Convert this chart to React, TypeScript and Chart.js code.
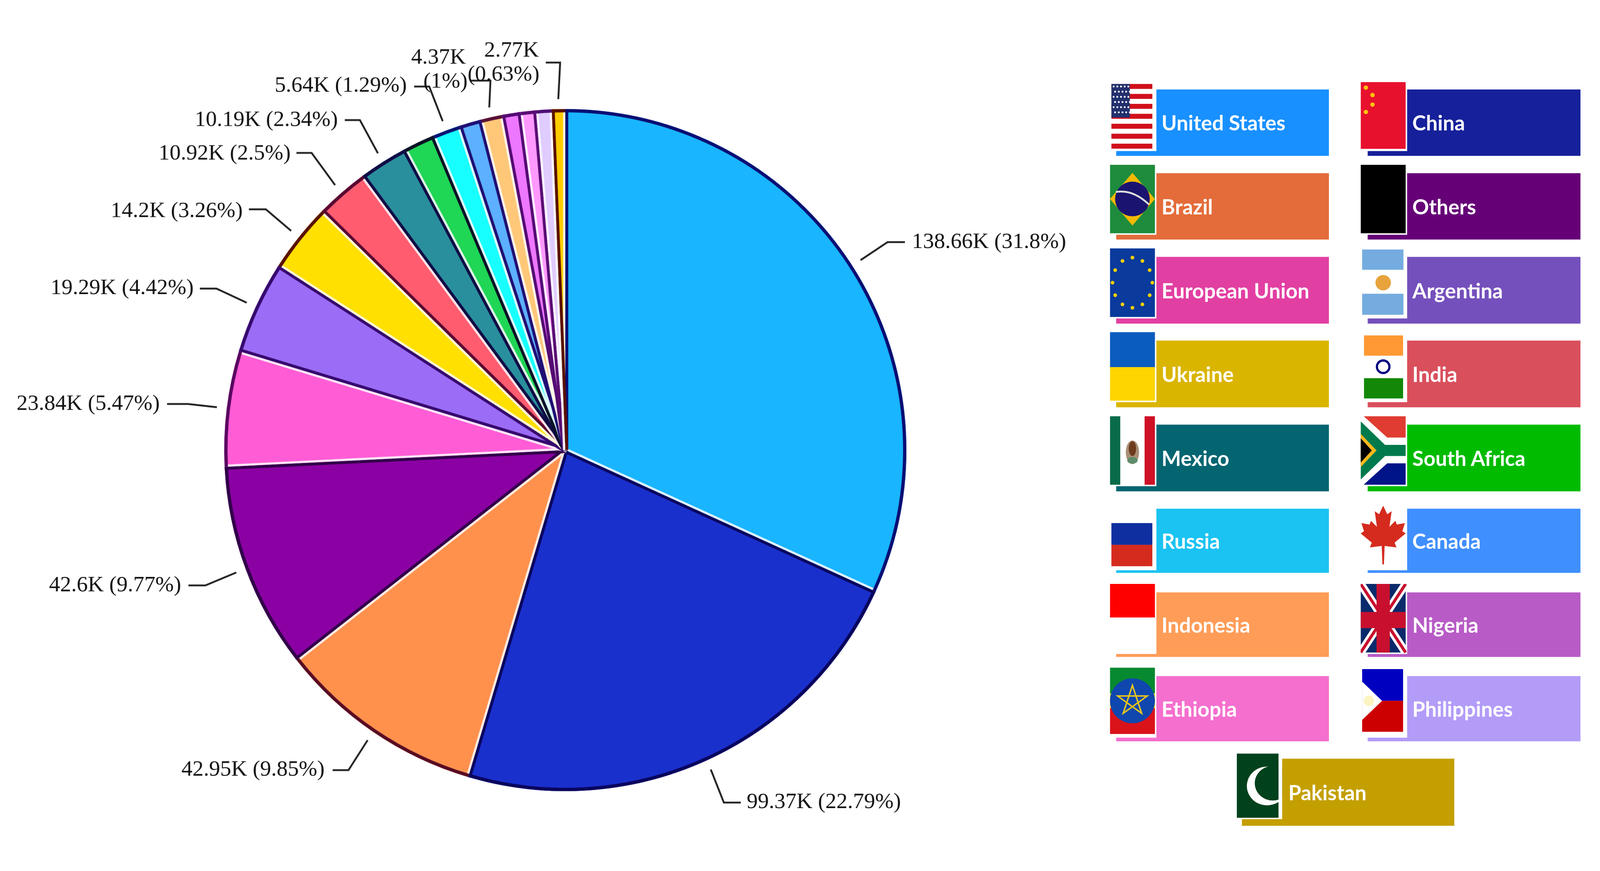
import { useEffect, useRef } from 'react';
import Chart from 'chart.js/auto';

const PAGE_W = 4339;
const PAGE_H = 2230;
const CENTER_X = 1533;
const CENTER_Y = 1155;
const PIE_R = 925;

const countries = [
  'United States', 'China', 'Brazil', 'Others', 'European Union', 'Argentina', 'Ukraine', 'India', 'Mexico',
  'South Africa', 'Russia', 'Canada', 'Indonesia', 'Nigeria', 'Ethiopia', 'Philippines', 'Pakistan',
];
const sliceValues = [138.66, 99.37, 42.95, 42.6, 23.84, 19.29, 14.2, 10.92, 10.19, 6.4, 5.64, 4.6, 4.37, 3.8, 3.2, 3.2, 2.77];
const valueLabels = ['138.66K', '99.37K', '42.95K', '42.6K', '23.84K', '19.29K', '14.2K', '10.92K', '10.19K', '', '5.64K', '', '4.37K', '', '', '', '2.77K'];
const percentLabels = ['31.8%', '22.79%', '9.85%', '9.77%', '5.47%', '4.42%', '3.26%', '2.5%', '2.34%', '', '1.29%', '', '1%', '', '', '', '0.63%'];

const sliceColors = [
  '#19B5FF', '#1A30CC', '#FF914D', '#8B00A3', '#FF5CD6', '#9B6CF5', '#FFE000', '#FF5C70', '#2A8F9C',
  '#1FD655', '#17FFFF', '#5CB0FF', '#FFC878', '#EE77FF', '#FF99FF', '#E0CCFF', '#FFCC00',
];
const legendColors = [
  '#1890FF', '#16209A', '#E46C3A', '#660077', '#E23FA2', '#7450BC', '#DAB500', '#D94F5C', '#036570',
  '#00BB00', '#1AC3F2', '#3F8FFF', '#FF9C57', '#B85BC6', '#F56FCE', '#B39CF8', '#C49F00',
];

// where the leader of each labelled slice bends and where its text sits
const labelLayout = [
  { slice: 0, elbow: [2407, 591], endX: 2454, lines: [[2473, 591]] },
  { slice: 1, elbow: [1963, 2111], endX: 2009, lines: [[2025, 2110]] },
  { slice: 2, elbow: [945, 2023], endX: 902, lines: [[492, 2022]] },
  { slice: 3, elbow: [557, 1522], endX: 511, lines: [[133, 1522]] },
  { slice: 4, elbow: [510, 1030], endX: 453, lines: [[45, 1030]] },
  { slice: 5, elbow: [587, 717], endX: 542, lines: [[137, 716]] },
  { slice: 6, elbow: [721, 502], endX: 675, lines: [[300, 507]] },
  { slice: 7, elbow: [845, 349], endX: 804, lines: [[430, 351]] },
  { slice: 8, elbow: [976, 260], endX: 935, lines: [[528, 260]] },
  { slice: 10, elbow: [1164, 169], endX: 1123, lines: [[745, 167]] },
  { slice: 12, elbow: [1330, 153], endX: 1276, lines: [[1115, 91], [1148, 156]] },
  { slice: 16, elbow: [1519, 104], endX: 1480, lines: [[1313, 72], [1268, 137]] },
];

const rowTops = [177, 404, 631, 858, 1086, 1314, 1541, 1768];
const rowHeights = [180, 180, 181, 181, 181, 174, 175, 177];

const toRgb = (hex: string) => [1, 3, 5].map((i) => parseInt(hex.slice(i, i + 2), 16));
const brightness = (hex: string) => {
  const [r, g, b] = toRgb(hex);
  return 0.3 * r + 0.59 * g + 0.11 * b;
};
const shade = (hex: string) => {
  const [r, g, b] = toRgb(hex);
  return `rgb(${r * 0.35},${g * 0.08},${b * 0.45})`;
};
const glow = (hex: string) => {
  const [r, g, b] = toRgb(hex);
  return `rgb(${r * 0.15 + 216},${g * 0.15 + 216},${b * 0.15 + 216})`;
};

// the reference has a dark rim and a light/dark seam between neighbouring slices
const pieEdges = {
  id: 'pieEdges',
  afterDatasetsDraw(chart: any) {
    const { ctx } = chart;
    const arcs = chart.getDatasetMeta(0).data;
    ctx.save();
    ctx.lineCap = 'butt';
    arcs.forEach((arc: any, i: number) => {
      const prev = (i + arcs.length - 1) % arcs.length;
      const a = arc.startAngle;
      const nx = -Math.sin(a);
      const ny = Math.cos(a);
      const mineDarker = brightness(sliceColors[i]) < brightness(sliceColors[prev]);
      const seam = (side: number, color: string, w: number) => {
        const off = (side * w) / 2;
        ctx.beginPath();
        ctx.moveTo(arc.x + nx * off, arc.y + ny * off);
        ctx.lineTo(arc.x + Math.cos(a) * PIE_R + nx * off, arc.y + Math.sin(a) * PIE_R + ny * off);
        ctx.strokeStyle = color;
        ctx.lineWidth = w;
        ctx.stroke();
      };
      seam(mineDarker ? 1 : -1, shade(mineDarker ? sliceColors[i] : sliceColors[prev]), 8);
      seam(mineDarker ? -1 : 1, glow(mineDarker ? sliceColors[prev] : sliceColors[i]), 6);
    });
    arcs.forEach((arc: any, i: number) => {
      ctx.beginPath();
      ctx.arc(arc.x, arc.y, arc.outerRadius - 4.5, arc.startAngle, arc.endAngle);
      ctx.strokeStyle = shade(sliceColors[i]);
      ctx.lineWidth = 9;
      ctx.stroke();
    });
    ctx.restore();
  },
};

const pieLabels = {
  id: 'pieLabels',
  afterDraw(chart: any) {
    const { ctx } = chart;
    const arcs = chart.getDatasetMeta(0).data;
    ctx.save();
    ctx.font = '60px "Liberation Serif"';
    ctx.textBaseline = 'middle';
    ctx.textAlign = 'left';
    labelLayout.forEach(({ slice, elbow, endX, lines }) => {
      const arc = arcs[slice];
      const mid = (arc.startAngle + arc.endAngle) / 2;
      ctx.beginPath();
      ctx.moveTo(arc.x + Math.cos(mid) * (arc.outerRadius + 27), arc.y + Math.sin(mid) * (arc.outerRadius + 27));
      ctx.lineTo(elbow[0], elbow[1]);
      ctx.lineTo(endX, elbow[1]);
      ctx.strokeStyle = '#222';
      ctx.lineWidth = 5;
      ctx.stroke();
      ctx.fillStyle = '#111';
      const texts = lines.length > 1
        ? [valueLabels[slice], `(${percentLabels[slice]})`]
        : [`${valueLabels[slice]} (${percentLabels[slice]})`];
      lines.forEach(([x, y], n) => ctx.fillText(texts[n], x, y));
    });
    ctx.restore();
  },
};

const dots = (pts: number[][], r: number, fill: string) =>
  pts.map(([x, y], i) => <circle key={i} cx={x} cy={y} r={r} fill={fill} />);

const usStripes = Array.from({ length: 7 }, (_, i) => i);
const usStars = Array.from({ length: 30 }, (_, i) => [10 + (i % 5) * 10 + (Math.floor(i / 5) % 2) * 4, 15 + Math.floor(i / 5) * 14]);
const euStars = Array.from({ length: 12 }, (_, i) => [
  61 + 54 * Math.cos((i * Math.PI) / 6),
  93 + 68 * Math.sin((i * Math.PI) / 6),
]);

// flags are drawn in a 126x190 box, the flag itself mostly fills 122x186
const flags: Record<string, any> = {
  'United States': (
    <>
      <rect x={4} y={8} width={111} height={175} fill="#fff" />
      {usStripes.map((i) => <rect key={i} x={4} y={8 + i * 27} width={111} height={13.5} fill="#D0101C" />)}
      <rect x={4} y={8} width={50} height={91} fill="#23306E" />
      {dots(usStars, 2.6, '#fff')}
    </>
  ),
  China: (
    <>
      <rect x={0} y={3} width={122} height={181} fill="#E8112D" />
      {dots([[14, 18], [32, 38], [32, 64], [14, 84]], 6, '#FFC20E')}
    </>
  ),
  Brazil: (
    <>
      <rect width={122} height={186} fill="#1E8C3C" />
      <polygon points="61,22 122,93 61,165 0,93" fill="#F5B800" />
      <circle cx={61} cy={93} r={47} fill="#1A1470" />
      <path d="M16 74 Q62 66 106 108" fill="none" stroke="#ddd" strokeWidth={5} />
    </>
  ),
  Others: <rect width={122} height={186} fill="#000" />,
  'European Union': (
    <>
      <rect width={122} height={186} fill="#0A3A9C" />
      {dots(euStars, 5, '#F5D000')}
    </>
  ),
  Argentina: (
    <>
      <rect x={4} y={3} width={112} height={55} fill="#74ACDF" />
      <rect x={4} y={123} width={112} height={57} fill="#74ACDF" />
      <circle cx={61} cy={93} r={21} fill="#E8A33D" />
    </>
  ),
  Ukraine: (
    <>
      <rect width={122} height={95} fill="#0B5CBF" />
      <rect y={95} width={122} height={91} fill="#FFD500" />
    </>
  ),
  India: (
    <>
      <rect x={9} y={9} width={106} height={55} fill="#FF9933" />
      <rect x={9} y={125} width={106} height={55} fill="#138808" />
      <circle cx={61} cy={94} r={17} fill="none" stroke="#000080" strokeWidth={6} />
    </>
  ),
  Mexico: (
    <>
      <rect width={28} height={186} fill="#0A6B4A" />
      <rect x={94} width={28} height={186} fill="#CE1126" />
      <ellipse cx={61} cy={98} rx={18} ry={32} fill="#A89078" />
      <ellipse cx={61} cy={88} rx={10} ry={20} fill="#6E3B1E" />
      <ellipse cx={61} cy={120} rx={14} ry={9} fill="#5E8C6A" />
    </>
  ),
  'South Africa': (
    <>
      <polygon points="8,0 122,0 122,58 72,58" fill="#E03C31" />
      <polygon points="8,186 122,186 122,128 72,128" fill="#001489" />
      <polygon points="0,14 66,78 122,78 122,108 66,108 0,172" fill="#007A4D" />
      <polygon points="0,48 43,93 0,138" fill="#FFB81C" />
      <polygon points="0,60 30,93 0,126" fill="#000" />
    </>
  ),
  Russia: (
    <>
      <rect x={4} y={62} width={111} height={59} fill="#0F2FA0" />
      <rect x={4} y={121} width={111} height={58} fill="#D52B1E" />
    </>
  ),
  Canada: (
    <polygon
      points="61,15 72,38 84,30 78,72 94,56 98,66 120,62 113,84 122,90 92,115 97,128 65,124 63,174 59,174 57,124 25,128 30,115 0,90 9,84 2,62 24,66 28,56 44,72 38,30 50,38"
      fill="#D52B1E"
    />
  ),
  Indonesia: <rect width={122} height={91} fill="#FF0000" />,
  Nigeria: (
    <>
      <rect width={122} height={186} fill="#0A2A6B" />
      <line x1={0} y1={0} x2={122} y2={186} stroke="#fff" strokeWidth={22} />
      <line x1={122} y1={0} x2={0} y2={186} stroke="#fff" strokeWidth={22} />
      <line x1={0} y1={0} x2={122} y2={186} stroke="#C8102E" strokeWidth={8} />
      <line x1={122} y1={0} x2={0} y2={186} stroke="#C8102E" strokeWidth={8} />
      <rect x={43} width={36} height={186} fill="#C8102E" />
      <rect y={76} width={122} height={44} fill="#C8102E" />
    </>
  ),
  Ethiopia: (
    <>
      <rect width={122} height={70} fill="#078930" />
      <rect y={70} width={122} height={40} fill="#FCDD09" />
      <rect y={110} width={122} height={70} fill="#DA121A" />
      <circle cx={61} cy={90} r={61} fill="#0F47AF" />
      <polygon points="61,48 86,124 21,77 101,77 36,124" fill="none" stroke="#E6C51E" strokeWidth={4} />
    </>
  ),
  Philippines: (
    <>
      <rect x={4} y={4} width={111} height={86} fill="#0000C0" />
      <rect x={4} y={90} width={111} height={84} fill="#CC0000" />
      <polygon points="4,38 58,90 4,142" fill="#fff" />
      <circle cx={22} cy={90} r={14} fill="#FBF3C0" />
    </>
  ),
  Pakistan: (
    <>
      <rect width={116} height={186} fill="#01411C" />
      <circle cx={84} cy={94} r={56} fill="#fff" />
      <circle cx={100} cy={86} r={50} fill="#01411C" />
      <rect x={116} width={10} height={186} fill="#fff" />
    </>
  ),
};

const labelStyle: any = {
  position: 'absolute',
  color: '#fff',
  font: '700 56px Lato',
  whiteSpace: 'nowrap',
  transform: 'translateY(-50%)',
};

const LegendItem = ({ index }: { index: number }) => {
  const name = countries[index];
  const isLast = index === countries.length - 1;
  const col = index % 2;
  const row = Math.floor(index / 2);
  const left = isLast ? 3368 : col === 0 ? 3027 : 3709;
  const top = isLast ? 1992 : rowTops[row];
  const height = isLast ? 182 : rowHeights[row];
  const width = isLast ? 576 : 577;
  const flagLeft = isLast ? 3354 : col === 0 ? 3010 : 3690;
  const flagTop = isLast ? 1978 : top - 23;
  return (
    <>
      <div style={{ position: 'absolute', left, top, width, height, background: legendColors[index] }} />
      <svg
        viewBox="0 0 126 190"
        preserveAspectRatio="none"
        style={{ position: 'absolute', left: flagLeft, top: flagTop, width: isLast ? 123 : 126, height: isLast ? 178 : 190, background: '#fff' }}
      >
        {flags[name]}
      </svg>
      <span style={{ ...labelStyle, left: flagLeft + 140, top: top + height / 2 }}>{name}</span>
    </>
  );
};

export default function App() {
  const canvasRef = useRef<HTMLCanvasElement | null>(null);

  useEffect(() => {
    if (!canvasRef.current) return;
    const chart = new Chart(canvasRef.current, {
      type: 'pie',
      data: {
        labels: countries,
        datasets: [{ data: sliceValues, backgroundColor: sliceColors, borderWidth: 0, radius: PIE_R }],
      },
      options: {
        animation: false,
        responsive: false,
        layout: { padding: { top: CENTER_Y * 2 - PAGE_H, right: PAGE_W - CENTER_X * 2 } },
        plugins: { legend: { display: false }, tooltip: { enabled: false } },
      },
      plugins: [pieEdges, pieLabels],
    } as any);
    return () => {
      chart.destroy();
    };
  }, []);

  // the window can be narrower than the layout, so fit the whole page and keep the pie round
  const fit = Math.min(1, window.innerWidth / PAGE_W, window.innerHeight / PAGE_H);
  const offsetY = (window.innerHeight - PAGE_H * fit) / 2;

  return (
    <div style={{ position: 'fixed', inset: 0, overflow: 'hidden', background: '#fff' }}>
      <div
        style={{
          position: 'absolute',
          left: 0,
          top: offsetY,
          width: PAGE_W,
          height: PAGE_H,
          transform: `scale(${fit})`,
          transformOrigin: '0 0',
          filter: 'blur(0.8px)',
        }}
      >
        <canvas ref={canvasRef} width={PAGE_W} height={PAGE_H} style={{ position: 'absolute', left: 0, top: 0 }} />
        {countries.map((_, i) => <LegendItem key={i} index={i} />)}
      </div>
    </div>
  );
}
